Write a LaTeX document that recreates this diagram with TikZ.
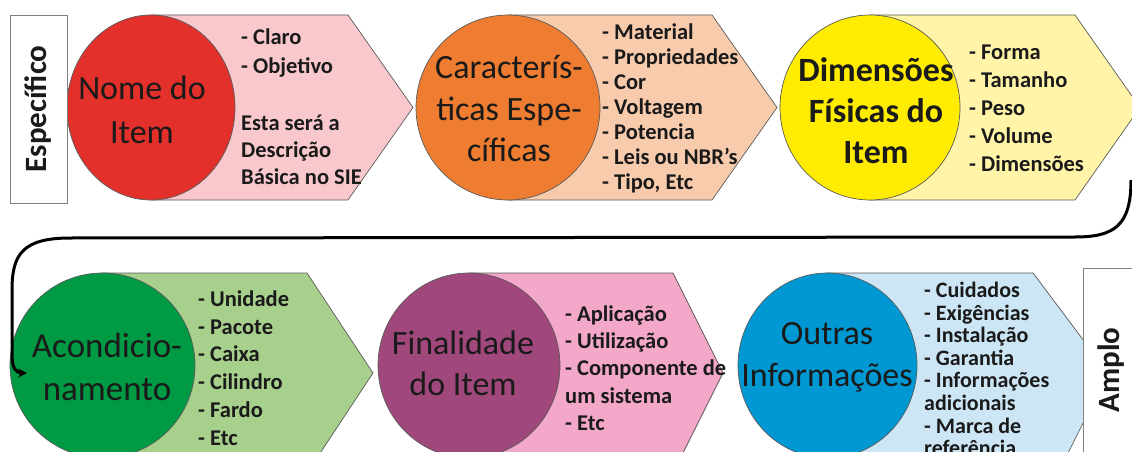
\documentclass[tikz,border=0pt]{standalone}
\usepackage{fontspec}
\setmainfont{Carlito}
\usetikzlibrary{shapes.geometric,arrows.meta}
\definecolor{edgegray}{HTML}{5A5A5A}
\definecolor{boxgray}{HTML}{808080}
\definecolor{txt}{HTML}{1A1A1A}
\definecolor{redC}{HTML}{E3302B}
\definecolor{redA}{HTML}{F9C8CD}
\definecolor{orgC}{HTML}{EE7D31}
\definecolor{orgA}{HTML}{F8CBAD}
\definecolor{yelC}{HTML}{FFEC00}
\definecolor{yelA}{HTML}{FFF4A8}
\definecolor{grnC}{HTML}{009A44}
\definecolor{grnA}{HTML}{A8D08D}
\definecolor{purC}{HTML}{A0487C}
\definecolor{purA}{HTML}{F4A8C9}
\definecolor{bluC}{HTML}{0098D2}
\definecolor{bluA}{HTML}{CDE6F5}
\begin{document}
\begin{tikzpicture}[x=1pt,y=-1pt,
  arrowshape/.style={draw=edgegray, line width=0.7pt},
  ball/.style={ellipse, draw=edgegray, line width=0.7pt, inner sep=0pt, minimum height=185pt},
  balltext/.style={align=center, inner sep=0pt, text=txt},
  listtext/.style={align=left, anchor=west, inner sep=0pt, text=txt, font=\fontsize{22.5}{27.5}\selectfont\bfseries},
  sidebox/.style={draw=boxgray, fill=white, line width=0.8pt, rotate=90, inner sep=0pt, text=txt, font=\fontsize{31}{31}\selectfont\bfseries},
  conn/.style={line width=3pt, black, -{Stealth[length=9pt,width=9pt]}}
]
\useasboundingbox (0,0) rectangle (1132,452);
\clip (0,0) rectangle (1132,452);

% ---- top row arrows
\draw[arrowshape, fill=redA] (151,15) -- (348,15) -- (413,107.5) -- (348,200) -- (151,200) -- cycle;
\draw[arrowshape, fill=orgA] (508,15) -- (712,15) -- (777,107.5) -- (712,200) -- (508,200) -- cycle;
\draw[arrowshape, fill=yelA] (870,15) -- (1075,15) -- (1140,107.5) -- (1075,200) -- (870,200) -- cycle;
% ---- bottom row arrows
\draw[arrowshape, fill=grnA] (102,273) -- (307,273) -- (373,373) -- (307,473) -- (102,473) -- cycle;
\draw[arrowshape, fill=purA] (469,273) -- (673,273) -- (723,373) -- (673,473) -- (469,473) -- cycle;
\draw[arrowshape, fill=bluA] (827,273) -- (1033,273) -- (1108,373) -- (1058,473) -- (827,473) -- cycle;

% ---- circles
\node[ball, fill=redC, minimum width=168pt] (nome) at (151,107.5) {};
\node[ball, fill=orgC, minimum width=184pt] (carac) at (508,107.5) {};
\node[ball, fill=yelC, minimum width=180pt] (dimen) at (870,107.5) {};
\node[ball, fill=grnC, minimum width=185pt] (acond) at (102.5,365.5) {};
\node[ball, fill=purC, minimum width=182pt] (final) at (469,365.5) {};
\node[ball, fill=bluC, minimum width=179pt] (outras) at (827.5,365.5) {};

% ---- circle texts
\node[balltext, font=\fontsize{34}{44}\selectfont] (nomeT) at (142,110) {Nome do\\Item};
\node[balltext, font=\fontsize{34}{41.5}\selectfont] (caracT) at (509,109) {Caracterís-\\ticas Espe-\\cíficas};
\node[balltext, font=\fontsize{34}{41}\selectfont\bfseries] (dimenT) at (876,111) {Dimensões\\Físicas do\\Item};
\node[balltext, font=\fontsize{35}{43}\selectfont] (acondT) at (107,367) {Acondicio-\\namento};
\node[balltext, font=\fontsize{34}{41}\selectfont] (finalT) at (463,363) {Finalidade\\do Item};
\node[balltext, font=\fontsize{34}{42}\selectfont] (outrasT) at (827,357) {Outras\\Informações};

% ---- lists
\node[listtext, font=\fontsize{22.5}{29}\selectfont\bfseries] (l1a) at (241,53) {- Claro\\- Objetivo};
\node[listtext, font=\fontsize{22.5}{27}\selectfont\bfseries] (l1b) at (241,150) {Esta será a\\Descrição\\Básica no SIE};
\node[listtext, font=\fontsize{22.5}{25}\selectfont\bfseries] (l2) at (602,108) {- Material\\- Propriedades\\- Cor\\- Voltagem\\- Potencia\\- Leis ou NBR’s\\- Tipo, Etc};
\node[listtext, font=\fontsize{22.5}{28}\selectfont\bfseries] (l3) at (969,108) {- Forma\\- Tamanho\\- Peso\\- Volume\\- Dimensões};
\node[listtext, font=\fontsize{22.5}{27.8}\selectfont\bfseries] (l4) at (198,368) {- Unidade\\- Pacote\\- Caixa\\- Cilindro\\- Fardo\\- Etc};
\node[listtext, font=\fontsize{22.5}{27.3}\selectfont\bfseries] (l5) at (565,368) {- Aplicação\\- Utilização\\- Componente de\\um sistema\\- Etc};
\node[listtext, font=\fontsize{22}{22.6}\selectfont\bfseries] (l6) at (924,369) {- Cuidados\\- Exigências\\- Instalação\\- Garantia\\- Informações\\adicionais\\- Marca de\\referência};

% ---- side boxes
\node[sidebox, minimum width=188pt, minimum height=57pt] (esp) at (38.5,109) {Específico};
\node[sidebox, minimum width=204pt, minimum height=57pt] (amplo) at (1111.5,370) {Amplo};

% ---- connector
\coordinate (cs) at (1131,180);
\coordinate (ce) at (27,373);
\draw[conn] (cs) .. controls (1131,225) and (1115,237) .. (1075,237)
  -- (70,238) .. controls (22,238) and (12,255) .. (12,290)
  -- (12,355) .. controls (12,368) and (16,373) .. (ce);
\end{tikzpicture}
\end{document}
